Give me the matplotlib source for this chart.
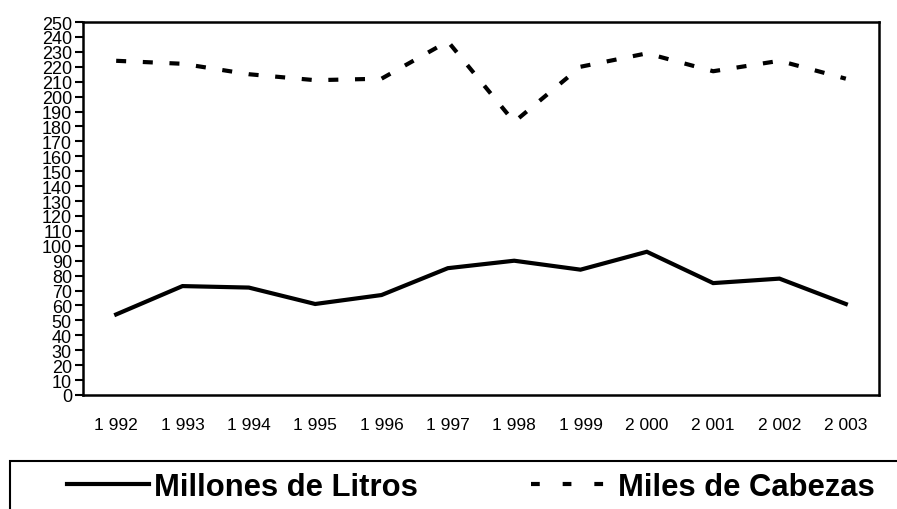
# Leche: producción y existencias, 1992-2003
import numpy as np
import matplotlib.pyplot as plt
from matplotlib.lines import Line2D
from matplotlib.patches import Rectangle

plt.rcParams['font.family'] = ['Liberation Sans', 'DejaVu Sans']

# Datos
years = ['1 992', '1 993', '1 994', '1 995', '1 996', '1 997',
         '1 998', '1 999', '2 000', '2 001', '2 002', '2 003']
litros = [54, 73, 72, 61, 67, 85, 90, 84, 96, 75, 78, 61]
cabezas = [224, 222, 215, 211, 212, 237, 183, 220, 229, 217, 224, 212]
y_ticks = list(range(0, 251, 10))

fig = plt.figure(figsize=(8.97, 5.10), dpi=100)
ax = fig.add_axes([83 / 897, 114 / 510, 796 / 897, 373 / 510])

x = np.arange(len(years))
ax.plot(x, litros, color='black', lw=3, solid_joinstyle='miter')
ax.plot(x, cabezas, color='black', lw=3, dashes=(2.4, 4.0),
        dash_capstyle='butt')

ax.set_xlim(-0.5, len(years) - 0.5)
ax.set_ylim(0, 250)
ax.set_yticks(y_ticks)
ax.set_yticklabels([str(v) for v in y_ticks], fontsize=13)
ax.set_xticks(x)
ax.set_xticklabels(years, fontsize=12.5)
ax.tick_params(axis='y', direction='out', length=6, width=1.5, pad=2)
ax.tick_params(axis='x', length=0, pad=16)
for s in ax.spines.values():
    s.set_linewidth(1.8)
    s.set_color('black')

# legend box runs off the bottom/right edge like the original
fig.patches.append(Rectangle((10 / 897, -0.1), 1.0, 48 / 510 + 0.1,
                             transform=fig.transFigure, fill=False,
                             edgecolor='black', lw=1.5))

handles = [Line2D([], [], color='black', lw=3),
           Line2D([], [], color='black', lw=3, dashes=(2.1, 5.5))]
leg = fig.legend(handles, ['Millones de Litros', 'Miles de Cabezas'],
                 loc='center left', ncol=2,
                 bbox_to_anchor=(67 / 897, 22 / 510),
                 borderaxespad=0, borderpad=0, frameon=False,
                 handlelength=2.65, handletextpad=0.16, columnspacing=3.64,
                 prop={'weight': 'bold', 'size': 22.3})

fig.savefig('out.png', dpi=100)
